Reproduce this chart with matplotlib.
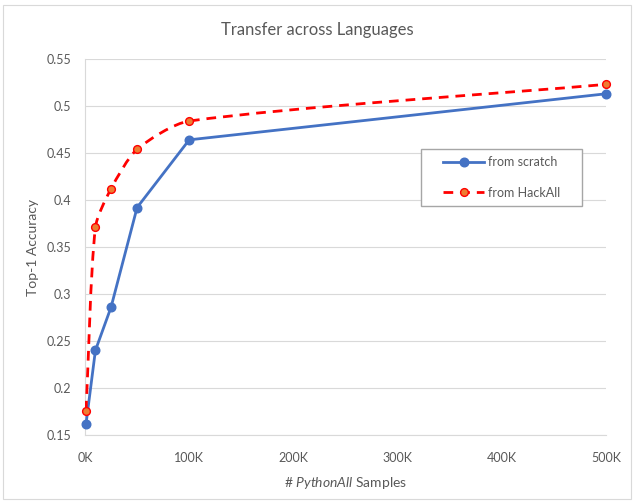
import matplotlib
matplotlib.use("Agg")
import matplotlib.pyplot as plt
import numpy as np
from matplotlib.path import Path
from matplotlib.patches import PathPatch, Rectangle
from matplotlib.lines import Line2D

plt.rcParams['font.family'] = ['Lato', 'DejaVu Sans']
plt.rcParams['mathtext.fontset'] = 'custom'
plt.rcParams['mathtext.rm'] = 'Lato'
plt.rcParams['mathtext.it'] = 'Lato:italic'

samples = [1000, 10000, 25000, 50000, 100000, 500000]
scratch = [0.162, 0.240, 0.286, 0.392, 0.464, 0.513]
hackall = [0.176, 0.371, 0.412, 0.454, 0.484, 0.523]
xticks = [0, 100000, 200000, 300000, 400000, 500000]
xticklabels = ['0K', '100K', '200K', '300K', '400K', '500K']
yticks = [0.15, 0.2, 0.25, 0.3, 0.35, 0.4, 0.45, 0.5, 0.55]
yticklabels = ['0.15', '0.2', '0.25', '0.3', '0.35', '0.4', '0.45', '0.5', '0.55']

BLUE = '#4472C4'
RED = '#FF0000'
ORANGE = '#ED7D31'
GRAY_TXT = '#595959'

W, H = 634, 501
fig = plt.figure(figsize=(W / 100, H / 100), dpi=100)
fig.patches.append(Rectangle((0.005, 0.004), 0.99, 0.986, transform=fig.transFigure,
                             fill=False, edgecolor='#D9D9D9', linewidth=0.8))
ax = fig.add_axes([85 / W, 1 - 435 / H, (606 - 85) / W, (435 - 59) / H])
ax.set_xlim(0, 500000)
ax.set_ylim(0.15, 0.55)

ax.set_yticks(yticks)
ax.set_yticklabels(yticklabels)
ax.set_xticks(xticks)
ax.set_xticklabels(xticklabels)
ax.tick_params(length=0, labelsize=9, colors=GRAY_TXT, pad=10)
ax.tick_params(axis='x', pad=12)
ax.grid(axis='y', color='#D9D9D9', linewidth=0.8)
ax.set_axisbelow(True)
for s in ['top', 'right']:
    ax.spines[s].set_visible(False)
for s in ['left', 'bottom']:
    ax.spines[s].set_color('#D9D9D9')
    ax.spines[s].set_linewidth(0.8)

# scratch: straight segments
ax.plot(samples, scratch, color=BLUE, linewidth=2.0, marker='o', markersize=6.2,
        markerfacecolor=BLUE, markeredgecolor=BLUE, zorder=3, clip_on=False)

# HackAll: smoothed dashed line (Bezier through the data points)
fig.canvas.draw()
pts = ax.transData.transform(np.column_stack([samples, hackall]))
n = len(pts)
tang = []
for i in range(n):
    if i == 0:
        d = pts[1] - pts[0]
    elif i == n - 1:
        d = pts[-1] - pts[-2]
    else:
        d = pts[i + 1] - pts[i - 1]
    tang.append(d / np.linalg.norm(d))
verts = [pts[0]]
codes = [Path.MOVETO]
for i in range(n - 1):
    L = np.linalg.norm(pts[i + 1] - pts[i])
    c1 = pts[i] + tang[i] * L / 4
    c2 = pts[i + 1] - tang[i + 1] * L / 4
    verts += [c1, c2, pts[i + 1]]
    codes += [Path.CURVE4] * 3
verts = ax.transData.inverted().transform(np.array(verts))
DASH = (0, (3.5, 2.5))
patch = PathPatch(Path(verts, codes), transform=ax.transData, fill=False,
                  edgecolor=RED, linewidth=2.0, linestyle=DASH, zorder=3)
ax.add_patch(patch)
ax.plot(samples, hackall, linestyle='none', marker='o', markersize=5.6,
        markerfacecolor=ORANGE, markeredgecolor=RED, markeredgewidth=1.0, zorder=4,
        clip_on=False)

# legend
ax.add_patch(Rectangle(((421 - 85) / 521, (435 - 206) / 376), 161 / 521, 57 / 376,
                       transform=ax.transAxes, facecolor='white', edgecolor='#A6A6A6',
                       linewidth=1.0, zorder=5))
handles = [
    Line2D([], [], color=BLUE, linewidth=2.0, marker='o', markersize=6.2, markerfacecolor=BLUE),
    Line2D([], [], color=RED, linewidth=2.0, linestyle=DASH, marker='o',
           markersize=5.6, markerfacecolor=ORANGE, markeredgecolor=RED),
]
leg = ax.legend(handles, ['from scratch', 'from HackAll'], loc='center left',
                bbox_to_anchor=((443 - 85) / 521, (435 - 177.5) / 376), fontsize=9,
                frameon=False, borderpad=0, labelspacing=1.45, handlelength=3.3,
                handletextpad=0.3, borderaxespad=0)
leg.set_zorder(6)
for t in leg.get_texts():
    t.set_color(GRAY_TXT)

fig.text(0.5, 1 - 30 / H, 'Transfer across Languages', fontsize=12, color=GRAY_TXT,
         ha='center', va='center')
ax.set_ylabel('Top-1 Accuracy', fontsize=10, color=GRAY_TXT, labelpad=5)
ax.set_xlabel(r'# $\it{PythonAll}$ Samples', fontsize=10, color=GRAY_TXT, labelpad=8)

fig.savefig('out.png', dpi=100)
